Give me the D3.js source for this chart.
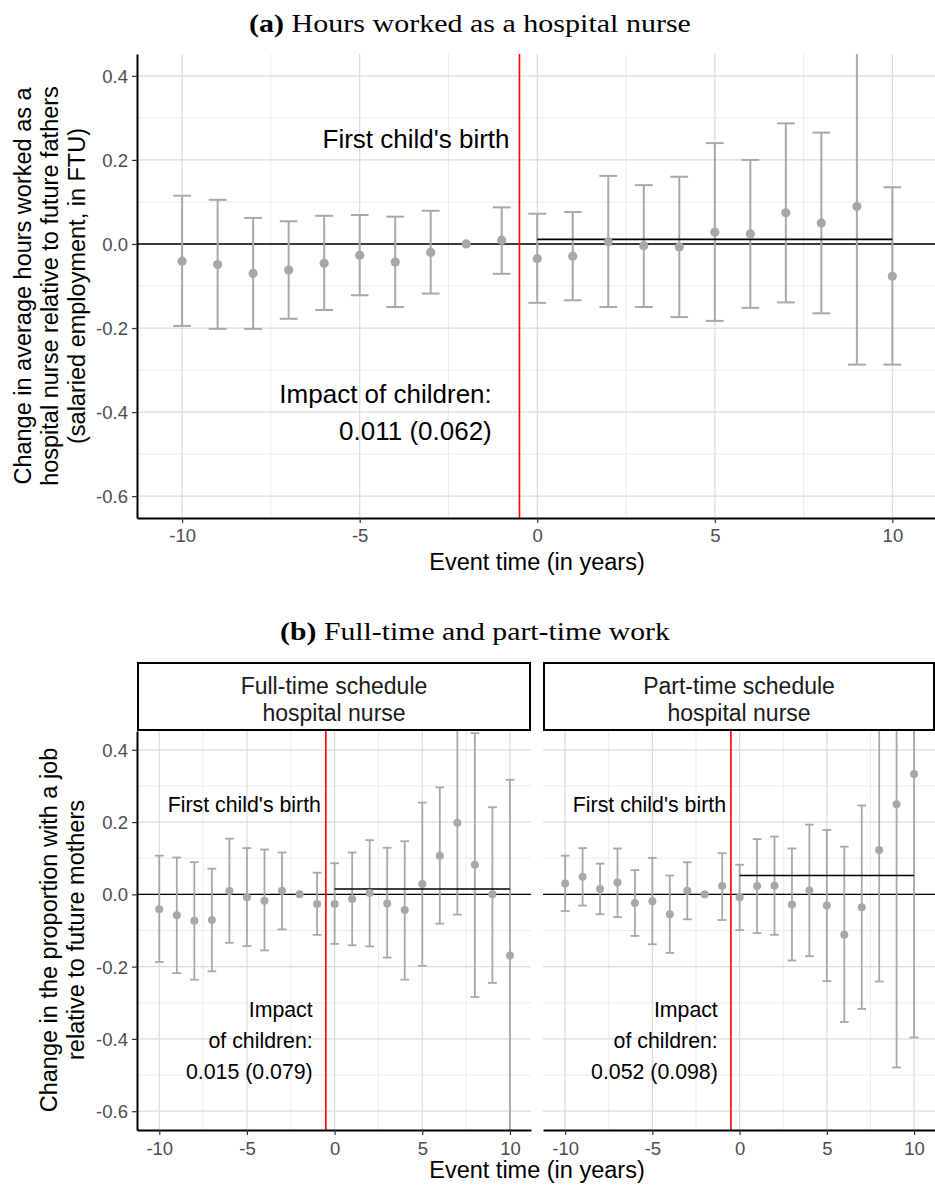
<!DOCTYPE html>
<html>
<head>
<meta charset="utf-8">
<script src="https://cdn.jsdelivr.net/npm/d3@7"></script>
<style>
  body { margin: 0; background: #ffffff; }
  svg { display: block; }
</style>
</head>
<body>
<svg id="chart" width="935" height="1189"></svg>
<script>
// ---- Data ---------------------------------------------------------------
const eventTime = [-10, -9, -8, -7, -6, -5, -4, -3, -2, -1, 0, 1, 2, 3, 4, 5, 6, 7, 8, 9, 10];

// (a) Hours worked as a hospital nurse (mothers vs. future fathers), FTU
const hoursEst = [-0.041, -0.049, -0.070, -0.062, -0.046, -0.027, -0.043, -0.020, 0.000, 0.009,
                  -0.035, -0.029, 0.005, -0.004, -0.007, 0.028, 0.024, 0.074, 0.050, 0.089, -0.077];
const hoursLo  = [-0.195, -0.202, -0.202, -0.178, -0.157, -0.122, -0.150, -0.118, null, -0.071,
                  -0.140, -0.134, -0.150, -0.150, -0.174, -0.183, -0.152, -0.139, -0.165, -0.287, -0.287];
const hoursHi  = [0.115, 0.105, 0.062, 0.054, 0.067, 0.069, 0.065, 0.079, null, 0.087,
                  0.072, 0.076, 0.162, 0.140, 0.160, 0.240, 0.200, 0.287, 0.265, 0.465, 0.135];

// (b) Full-time schedule hospital nurse
const fullEst = [-0.041, -0.058, -0.073, -0.071, 0.009, -0.008, -0.018, 0.010, 0.000, -0.027,
                 -0.027, -0.013, 0.004, -0.025, -0.043, 0.029, 0.107, 0.198, 0.082, 0.000, -0.169];
const fullLo  = [-0.187, -0.218, -0.236, -0.213, -0.134, -0.143, -0.155, -0.097, null, -0.112,
                 -0.137, -0.141, -0.144, -0.175, -0.236, -0.198, -0.081, -0.056, -0.284, -0.245, -0.655];
const fullHi  = [0.107, 0.102, 0.089, 0.071, 0.154, 0.128, 0.124, 0.116, null, 0.060,
                 0.086, 0.116, 0.150, 0.129, 0.147, 0.254, 0.296, 0.460, 0.446, 0.241, 0.317];

// (b) Part-time schedule hospital nurse
const partEst = [0.030, 0.049, 0.015, 0.033, -0.024, -0.019, -0.055, 0.010, 0.000, 0.023,
                 -0.008, 0.023, 0.024, -0.028, 0.011, -0.031, -0.112, -0.036, 0.123, 0.249, 0.333];
const partLo  = [-0.046, -0.031, -0.055, -0.063, -0.115, -0.138, -0.162, -0.069, null, -0.071,
                 -0.099, -0.107, -0.112, -0.183, -0.171, -0.240, -0.353, -0.317, -0.241, -0.479, -0.396];
const partHi  = [0.107, 0.128, 0.085, 0.127, 0.067, 0.101, 0.052, 0.089, null, 0.114,
                 0.082, 0.153, 0.160, 0.127, 0.193, 0.178, 0.132, 0.246, 0.487, 0.977, 1.060];

// Average post-birth effect and its standard error
const impactHours = [0.011, 0.062];
const impactFull  = [0.015, 0.079];
const impactPart  = [0.052, 0.098];

// Axis ticks
const xTickValues = [-10, -5, 0, 5, 10];
const xTickLabels = ["-10", "-5", "0", "5", "10"];
const xMinor = [-7.5, -2.5, 2.5, 7.5];
const yTickValues = [-0.6, -0.4, -0.2, 0, 0.2, 0.4];
const yTickLabels = ["-0.6", "-0.4", "-0.2", "0.0", "0.2", "0.4"];
const yMinor = [-0.5, -0.3, -0.1, 0.1, 0.3];

const stripLabels = [["Full-time schedule", "hospital nurse"], ["Part-time schedule", "hospital nurse"]];

// ---- Styles -------------------------------------------------------------
const SANS = "'Liberation Sans', Arial, Helvetica, sans-serif";
const SERIF = "'Liberation Serif', 'Times New Roman', serif";
const MARK = "#a8a8a8";
const X_DOMAIN = [-11.27, 11.2];
const Y_DOMAIN = [-0.652, 0.452];

const svg = d3.select("#chart");
let clipId = 0;

function rows(est, lo, hi) {
  return eventTime.map((t, i) => ({ t, est: est[i], lo: lo[i], hi: hi[i] }));
}

function fmt(v) { return v.toFixed(3); }

function drawPanel(box, opt) {
  const x = d3.scaleLinear().domain(X_DOMAIN).range([box.left, box.right]);
  const y = d3.scaleLinear().domain(Y_DOMAIN).range([box.bottom, box.top]);
  const g = svg.append("g");

  const id = "clip" + (clipId++);
  svg.append("clipPath").attr("id", id).append("rect")
    .attr("x", box.left).attr("y", box.top)
    .attr("width", box.right - box.left).attr("height", box.bottom - box.top);
  const plot = g.append("g").attr("clip-path", `url(#${id})`);

  // grid
  plot.selectAll(".gminy").data(yMinor).join("line")
    .attr("x1", box.left).attr("x2", box.right)
    .attr("y1", d => y(d)).attr("y2", d => y(d))
    .attr("stroke", "#ebebeb").attr("stroke-width", 1);
  plot.selectAll(".gminx").data(xMinor).join("line")
    .attr("y1", box.top).attr("y2", box.bottom)
    .attr("x1", d => x(d)).attr("x2", d => x(d))
    .attr("stroke", "#ebebeb").attr("stroke-width", 1);
  plot.selectAll(".gmajy").data(yTickValues).join("line")
    .attr("x1", box.left).attr("x2", box.right)
    .attr("y1", d => y(d)).attr("y2", d => y(d))
    .attr("stroke", "#dcdcdc").attr("stroke-width", 1.2);
  plot.selectAll(".gmajx").data(xTickValues).join("line")
    .attr("y1", box.top).attr("y2", box.bottom)
    .attr("x1", d => x(d)).attr("x2", d => x(d))
    .attr("stroke", "#dcdcdc").attr("stroke-width", 1.2);

  // reference lines
  plot.append("line")
    .attr("x1", box.left).attr("x2", box.right)
    .attr("y1", y(0)).attr("y2", y(0))
    .attr("stroke", "#000").attr("stroke-width", 1.4);
  plot.append("line")
    .attr("x1", x(-0.5)).attr("x2", x(-0.5))
    .attr("y1", box.top).attr("y2", box.bottom)
    .attr("stroke", "#ff0000").attr("stroke-width", 1.6);

  // error bars
  const data = opt.data;
  const bars = data.filter(d => d.lo !== null);
  const cap = 0.25;
  const eb = plot.append("g").attr("stroke", MARK).attr("stroke-width", opt.barWidth).attr("fill", "none");
  eb.selectAll(".v").data(bars).join("line")
    .attr("x1", d => x(d.t)).attr("x2", d => x(d.t))
    .attr("y1", d => y(d.hi)).attr("y2", d => y(d.lo));
  eb.selectAll(".ch").data(bars).join("line")
    .attr("x1", d => x(d.t - cap)).attr("x2", d => x(d.t + cap))
    .attr("y1", d => y(d.hi)).attr("y2", d => y(d.hi));
  eb.selectAll(".cl").data(bars).join("line")
    .attr("x1", d => x(d.t - cap)).attr("x2", d => x(d.t + cap))
    .attr("y1", d => y(d.lo)).attr("y2", d => y(d.lo));

  // average post-birth effect
  plot.append("line")
    .attr("x1", x(0)).attr("x2", x(10))
    .attr("y1", y(opt.impact[0])).attr("y2", y(opt.impact[0]))
    .attr("stroke", "#000").attr("stroke-width", 1.6);

  // point estimates
  plot.selectAll("circle").data(data).join("circle")
    .attr("cx", d => x(d.t)).attr("cy", d => y(d.est))
    .attr("r", opt.radius).attr("fill", MARK);

  // annotations
  const fs = opt.noteSize;
  g.append("text")
    .attr("x", x(-0.78)).attr("y", y(0.2275))
    .attr("text-anchor", "end").attr("font-family", SANS).attr("font-size", fs)
    .attr("fill", "#000").text("First child's birth");
  const noteLines = opt.noteLines;
  const nt = g.append("text").attr("text-anchor", "end")
    .attr("font-family", SANS).attr("font-size", fs).attr("fill", "#000");
  noteLines.forEach((s, i) => {
    nt.append("tspan").attr("x", x(opt.noteX)).attr("y", y(opt.noteY) + i * opt.noteGap).text(s);
  });

  // x axis
  const xa = g.append("g").attr("transform", `translate(0,${box.bottom})`)
    .call(d3.axisBottom(x).tickValues(xTickValues).tickFormat((d, i) => xTickLabels[i]).tickSize(5).tickSizeOuter(0));
  xa.select(".domain").attr("stroke", "#000").attr("stroke-width", 2);
  xa.selectAll(".tick line").attr("stroke", "#333").attr("stroke-width", 1.2);
  xa.selectAll(".tick text").attr("font-family", SANS).attr("font-size", 18.5)
    .attr("fill", "#4d4d4d").attr("dy", "0").attr("y", opt.xLabelOffset);

  // y axis
  if (opt.yAxis) {
    const ya = g.append("g").attr("transform", `translate(${box.left},0)`)
      .call(d3.axisLeft(y).tickValues(yTickValues).tickFormat((d, i) => yTickLabels[i]).tickSize(5).tickSizeOuter(0));
    ya.select(".domain").attr("stroke", "#000").attr("stroke-width", 2);
    ya.selectAll(".tick line").attr("stroke", "#333").attr("stroke-width", 1.2);
    ya.selectAll(".tick text").attr("font-family", SANS).attr("font-size", 18.5)
      .attr("fill", "#4d4d4d").attr("x", -9).attr("dy", "0.35em");
  }
  return { x, y };
}

// Sub-figure caption, widened horizontally to the given width
function caption(cx, cy, label, rest, width) {
  const g = svg.append("g");
  const t = g.append("text").attr("x", 0).attr("y", 0).attr("text-anchor", "middle")
    .attr("font-family", SERIF).attr("font-size", 26).attr("fill", "#000");
  t.append("tspan").attr("font-weight", "bold").text(label);
  t.append("tspan").text(rest);
  const w = t.node().getComputedTextLength();
  const s = w > 0 ? width / w : 1;
  g.attr("transform", `translate(${cx},${cy}) scale(${s},1)`);
}

// ---- Panel (a) ----------------------------------------------------------
const topBox = { left: 137, right: 935, top: 54, bottom: 518 };
drawPanel(topBox, {
  data: rows(hoursEst, hoursLo, hoursHi),
  impact: impactHours,
  barWidth: 2, radius: 4.6,
  noteSize: 26, noteX: -1.28, noteY: -0.378, noteGap: 37,
  noteLines: ["Impact of children:", `${fmt(impactHours[0])} (${fmt(impactHours[1])})`],
  yAxis: true, xLabelOffset: 24
});

caption(470, 32, "(a)", " Hours worked as a hospital nurse", 442);

// axis titles (a)
svg.append("text").attr("x", 537).attr("y", 570).attr("text-anchor", "middle")
  .attr("font-family", SANS).attr("font-size", 23.5).attr("fill", "#000")
  .text("Event time (in years)");
const yTitleA = ["Change in average hours worked as a",
                 "hospital nurse relative to future fathers",
                 "(salaried employment, in FTU)"];
yTitleA.forEach((s, i) => {
  svg.append("text")
    .attr("transform", `translate(${31 + i * 27},286) rotate(-90)`)
    .attr("text-anchor", "middle").attr("font-family", SANS).attr("font-size", 23.5)
    .attr("fill", "#000").text(s);
});

// ---- Panel (b) ----------------------------------------------------------
caption(475, 640, "(b)", " Full-time and part-time work", 390);

const bTop = 731, bBottom = 1130;
const boxes = [
  { left: 137, right: 531, top: bTop, bottom: bBottom },
  { left: 543, right: 935, top: bTop, bottom: bBottom }
];
const series = [
  { data: rows(fullEst, fullLo, fullHi), impact: impactFull },
  { data: rows(partEst, partLo, partHi), impact: impactPart }
];

boxes.forEach((box, k) => {
  drawPanel(box, {
    data: series[k].data,
    impact: series[k].impact,
    barWidth: 1.8, radius: 4,
    noteSize: 21.3, noteX: -1.25, noteY: -0.339, noteGap: 31,
    noteLines: ["Impact", "of children:", `${fmt(series[k].impact[0])} (${fmt(series[k].impact[1])})`],
    yAxis: k === 0, xLabelOffset: 25
  });
  // facet strip
  svg.append("rect").attr("x", box.left + 1).attr("y", 663)
    .attr("width", box.right - box.left - 2).attr("height", bTop - 663 - 1)
    .attr("fill", "#fff").attr("stroke", "#000").attr("stroke-width", 2);
  stripLabels[k].forEach((s, i) => {
    svg.append("text").attr("x", (box.left + box.right) / 2).attr("y", 694 + i * 27)
      .attr("text-anchor", "middle").attr("font-family", SANS).attr("font-size", 23)
      .attr("fill", "#1a1a1a").text(s);
  });
});

svg.append("text").attr("x", 537).attr("y", 1178).attr("text-anchor", "middle")
  .attr("font-family", SANS).attr("font-size", 23.5).attr("fill", "#000")
  .text("Event time (in years)");
const yTitleB = ["Change in the proportion with a job", "relative to future mothers"];
yTitleB.forEach((s, i) => {
  svg.append("text")
    .attr("transform", `translate(${57 + i * 27},930) rotate(-90)`)
    .attr("text-anchor", "middle").attr("font-family", SANS).attr("font-size", 23.5)
    .attr("fill", "#000").text(s);
});
</script>
</body>
</html>
